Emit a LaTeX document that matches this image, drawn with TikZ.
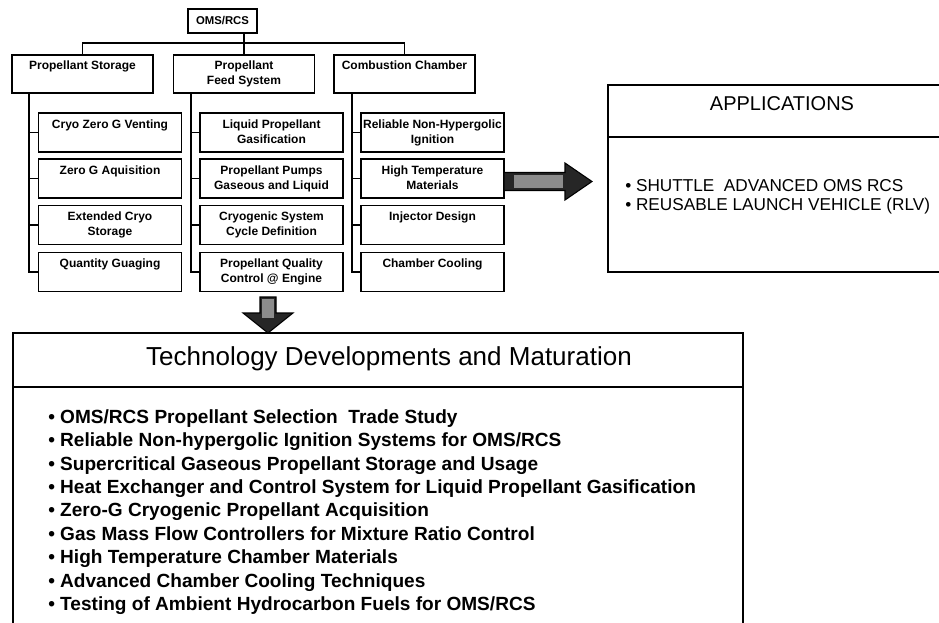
\documentclass[tikz,border=0pt]{standalone}
\usepackage{fontspec}
\setmainfont{Liberation Sans}
\usetikzlibrary{backgrounds}

\begin{document}
\begin{tikzpicture}[x=0.75pt,y=0.75pt,yscale=-1,xscale=1,
  topbox/.style={draw,line width=1.2pt,minimum width=51.75pt,minimum height=18pt,inner sep=0pt,font=\bfseries\fontsize{8.5}{9}\selectfont},
  groupbox/.style={draw,line width=1.2pt,minimum width=105.75pt,minimum height=28.5pt,inner sep=0pt,align=center,font=\bfseries\fontsize{9}{11.25}\selectfont},
  leafbox/.style={groupbox,minimum width=107.25pt,minimum height=29.5pt},
  link/.style={line width=1.4pt},
  frame/.style={line width=1.2pt},
  fatarrow/.style={draw=black,line width=0.8pt,fill=black!85},
  fatshaft/.style={fill=black!45}]
\useasboundingbox (0,0) rectangle (939,622);
\clip (0,0) rectangle (939,622);

%Shape: Rectangle
\node[topbox] (oms) at (222.5,21) {OMS/RCS};

%Shape: Rectangle
\node[groupbox] (storage) at (82.5,74) {\strut Propellant Storage\\\strut};
\node[groupbox] (feed) at (244,74) {\strut Propellant\\\strut Feed System};
\node[groupbox] (chamber) at (404.5,74) {\strut Combustion Chamber\\\strut};

%Shape: Rectangle
\node[leafbox] (cryoVent) at (110,132.5) {\strut Cryo Zero G Venting\\\strut};
\node[leafbox] (zeroGAcq) at (110,178.5) {\strut Zero G Aquisition\\\strut};
\node[leafbox] (extCryo) at (110,225) {\strut Extended Cryo\\\strut Storage};
\node[leafbox] (qtyGauge) at (110,272) {\strut Quantity Guaging\\\strut};

\node[leafbox] (liqGasif) at (271.5,132.5) {\strut Liquid Propellant\\\strut Gasification};
\node[leafbox] (pumps) at (271.5,178.5) {\strut Propellant Pumps\\\strut Gaseous and Liquid};
\node[leafbox] (cryoCycle) at (271.5,225) {\strut Cryogenic System\\\strut Cycle Definition};
\node[leafbox] (quality) at (271.5,272) {\strut Propellant Quality\\\strut Control @ Engine};

\node[leafbox] (ignition) at (432.5,132.5) {\strut Reliable Non-Hypergolic\\\strut Ignition};
\node[leafbox] (hiTemp) at (432.5,178.5) {\strut High Temperature\\\strut Materials};
\node[leafbox] (injector) at (432.5,225) {\strut Injector Design\\\strut};
\node[leafbox] (cooling) at (432.5,272) {\strut Chamber Cooling\\\strut};

%Straight Lines
\coordinate (bus) at (245,43);
\draw[link] (storage.north) |- (bus) -| (chamber.north);
\draw[link] (oms.south -| feed.north) -- (feed.north);

%Straight Lines
\coordinate (spineA) at (29,0);
\coordinate (spineB) at (191,0);
\coordinate (spineC) at (352,0);
\draw[link] (storage.south -| spineA) |- (cryoVent.west);
\draw[link] (storage.south -| spineA) |- (zeroGAcq.west);
\draw[link] (storage.south -| spineA) |- (extCryo.west);
\draw[link] (storage.south -| spineA) |- (qtyGauge.west);
\draw[link] (feed.south -| spineB) |- (liqGasif.west);
\draw[link] (feed.south -| spineB) |- (pumps.west);
\draw[link] (feed.south -| spineB) |- (cryoCycle.west);
\draw[link] (feed.south -| spineB) |- (quality.west);
\draw[link] (chamber.south -| spineC) |- (ignition.west);
\draw[link] (chamber.south -| spineC) |- (hiTemp.west);
\draw[link] (chamber.south -| spineC) |- (injector.west);
\draw[link] (chamber.south -| spineC) |- (cooling.west);

%Shape: Right Arrow
\filldraw[fatarrow] (504,172.5) -- (565,172.5) -- (565,163) -- (592,181.5) -- (565,200) -- (565,190.5) -- (504,190.5) -- cycle;
\fill[fatshaft] (514,175) rectangle (563,188);

%Shape: Down Arrow
\filldraw[fatarrow] (260,297) -- (276,297) -- (276,313) -- (293,313) -- (268,333) -- (243,313) -- (260,313) -- cycle;
\fill[fatshaft] (262,299) rectangle (274,318);

%Shape: Rectangle
\draw[frame] (608,85) rectangle (950,272);
\draw[frame] (608,137) -- (950,137);
% Text Node
\node[font=\fontsize{15}{18}\selectfont] (appsTitle) at (782,104) {APPLICATIONS};
% Text Node
\node[anchor=north west,inner sep=0pt,align=left,font=\fontsize{12.9}{14.25}\selectfont] (appsList) at (625,179)
  {\textbullet\ SHUTTLE\ \ ADVANCED OMS RCS\\\textbullet\ REUSABLE LAUNCH VEHICLE (RLV)};

%Shape: Rectangle
\draw[frame] (13,640) -- (13,333) -- (743,333) -- (743,640);
\draw[frame] (13,387) -- (743,387);
% Text Node
\node[font=\fontsize{19.5}{23}\selectfont] (techTitle) at (389,359) {Technology Developments and Maturation};
% Text Node
\node[anchor=north west,inner sep=0pt,align=left,font=\bfseries\fontsize{14.3}{17.6}\selectfont] (techList) at (48,409)
  {\textbullet\ OMS/RCS Propellant Selection\ \ Trade Study\\
   \textbullet\ Reliable Non-hypergolic Ignition Systems for OMS/RCS\\
   \textbullet\ Supercritical Gaseous Propellant Storage and Usage\\
   \textbullet\ Heat Exchanger and Control System for Liquid Propellant Gasification\\
   \textbullet\ Zero-G Cryogenic Propellant Acquisition\\
   \textbullet\ Gas Mass Flow Controllers for Mixture Ratio Control\\
   \textbullet\ High Temperature Chamber Materials\\
   \textbullet\ Advanced Chamber Cooling Techniques\\
   \textbullet\ Testing of Ambient Hydrocarbon Fuels for OMS/RCS};

\end{tikzpicture}
\end{document}
